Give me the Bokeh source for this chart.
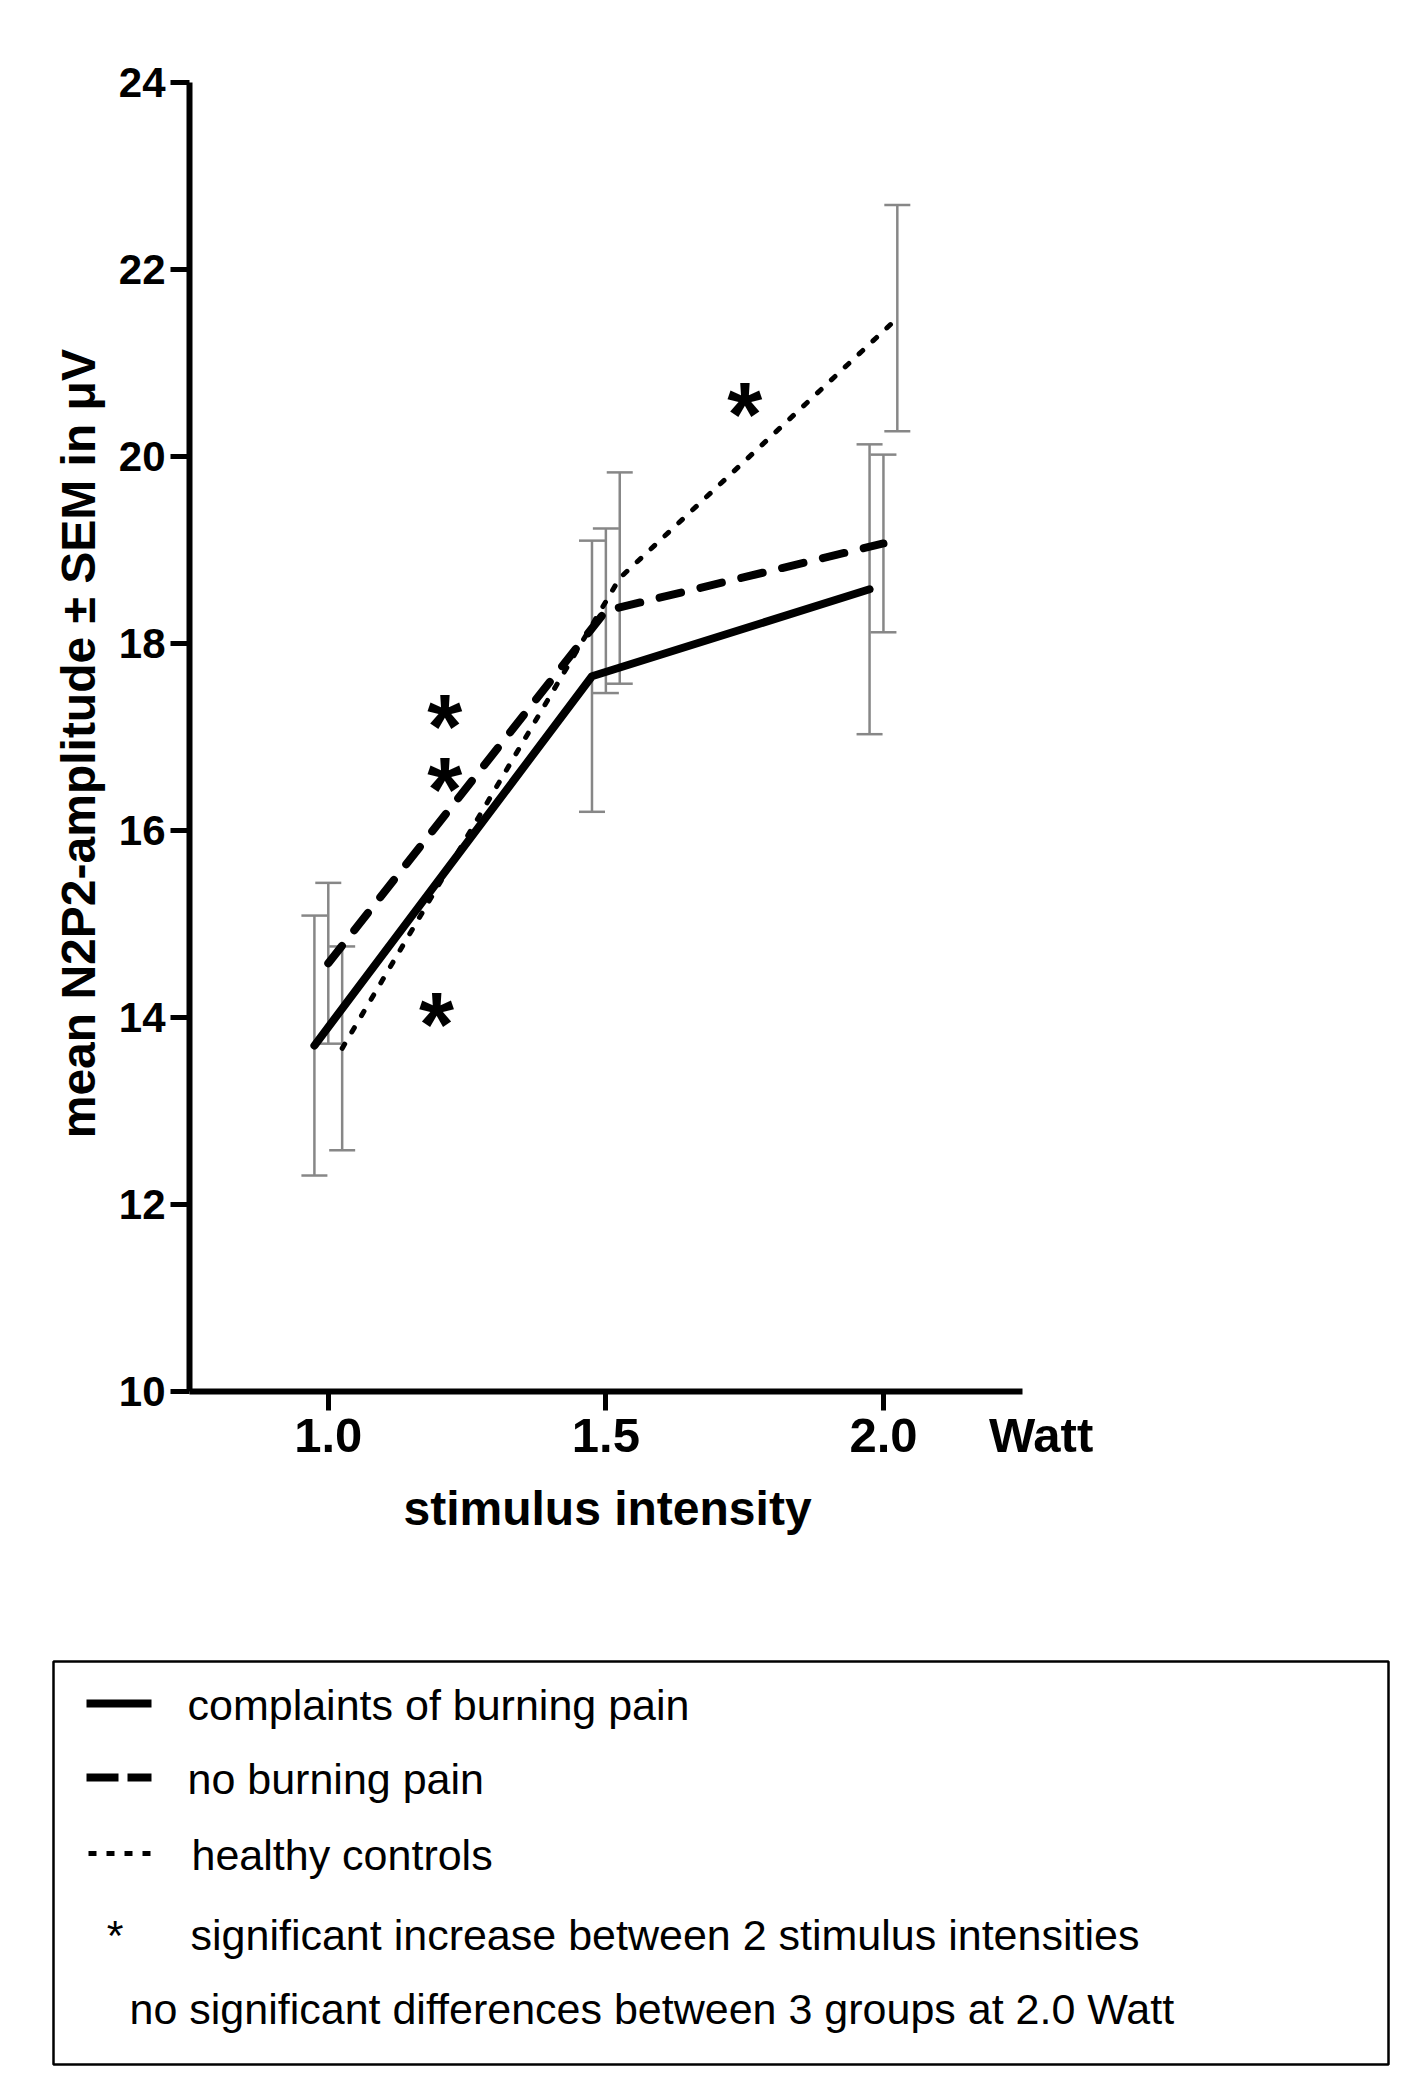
from bokeh.plotting import figure
from bokeh.models import Range1d, FixedTicker, Whisker, TeeHead, ColumnDataSource, LinearAxis, Title
from bokeh.embed import file_html
from bokeh.resources import INLINE
from bokeh.core.properties import value

# ---------------- data ----------------
intensity = [1.0, 1.5, 2.0]
burning_mean = [13.70, 17.65, 18.58]
burning_sem = [1.39, 1.45, 1.55]
noburn_mean = [14.58, 18.35, 19.07]
noburn_sem = [0.86, 0.88, 0.95]
control_mean = [13.67, 18.70, 21.48]
control_sem = [1.09, 1.13, 1.21]

star_x = [1.21, 1.21, 1.195, 1.75]
star_y = [17.25, 16.57, 14.06, 20.58]

y_ticks = [10, 12, 14, 16, 18, 20, 22, 24]
x_ticks = [1.0, 1.5, 2.0]
unit_pos = 2.284
unit_label = "Watt"

legend_labels = ["complaints of burning pain", "no burning pain", "healthy controls",
                 "significant increase between 2 stimulus intensities",
                 "no significant differences between 3 groups at 2.0 Watt"]

FONT = "Liberation Sans"
GRAY = "#878787"

p = figure(frame_width=916, frame_height=1309,
           min_border_left=189, min_border_top=82, min_border_right=304, min_border_bottom=209,
           x_range=Range1d(0.75, 2.4), y_range=Range1d(10, 24),
           x_axis_location=None, y_axis_location=None,
           output_backend="svg", toolbar_location=None)
p.outline_line_color = None
p.grid.visible = False

# y axis
yax = LinearAxis(ticker=FixedTicker(ticks=y_ticks), bounds=(10, 24))
yax.axis_line_width = 6
yax.major_tick_line_width = 5
yax.major_tick_out = 19
yax.major_tick_in = 0
yax.minor_tick_line_color = None
yax.major_label_text_font = FONT
yax.major_label_text_font_style = "bold"
yax.major_label_text_font_size = "42px"
yax.major_label_text_color = "black"
yax.major_label_standoff = 5
yax.axis_label = "mean N2P2-amplitude \u00b1 SEM in  \u03bcV"
yax.axis_label_text_font = FONT
yax.axis_label_text_font_style = "bold"
yax.axis_label_text_font_size = "48px"
yax.axis_label_text_color = "black"
yax.axis_label_standoff = 11
p.add_layout(yax, "left")

# x axis: line + tick marks only
xax = LinearAxis(ticker=FixedTicker(ticks=x_ticks), bounds=(0.75, 2.25))
xax.axis_line_width = 6
xax.major_tick_line_width = 5
xax.major_tick_out = 19
xax.major_tick_in = 0
xax.minor_tick_line_color = None
xax.major_label_text_font_size = "1px"
xax.major_label_text_color = None
xax.major_label_standoff = 0
p.add_layout(xax, "below")

# x axis: tick labels (incl. unit)
xlab = LinearAxis(ticker=FixedTicker(ticks=x_ticks + [unit_pos]))
xlab.major_label_overrides = {1.0: "1.0", 1.5: "1.5", 2.0: "2.0", unit_pos: unit_label}
xlab.axis_line_color = None
xlab.major_tick_line_color = None
xlab.major_tick_out = 0
xlab.major_tick_in = 0
xlab.minor_tick_line_color = None
xlab.major_label_text_font = FONT
xlab.major_label_text_font_style = "bold"
xlab.major_label_text_font_size = "49px"
xlab.major_label_text_color = "black"
xlab.major_label_standoff = -3
p.add_layout(xlab, "below")

# x axis title
xt = Title(text="stimulus intensity", align="left", offset=214, standoff=30,
           text_font=FONT, text_font_style="bold", text_font_size="48px", text_color="black")
p.add_layout(xt, "below")

series = [
    (burning_mean, burning_sem, -0.025, dict(line_width=8)),
    (noburn_mean, noburn_sem, 0.0, dict(line_width=8, line_dash="22 20")),
    (control_mean, control_sem, 0.025, dict(line_width=5, line_dash="5 14")),
]

for mean, sem, dx, style in series:
    xs = [x + dx for x in intensity]
    src = ColumnDataSource(dict(x=xs, y=mean,
                                upper=[m + s for m, s in zip(mean, sem)],
                                lower=[m - s for m, s in zip(mean, sem)]))
    w = Whisker(source=src, base="x", upper="upper", lower="lower", dimension="height",
                line_color=GRAY, line_width=2.5, level="underlay",
                upper_head=TeeHead(size=26, line_color=GRAY, line_width=2.5),
                lower_head=TeeHead(size=26, line_color=GRAY, line_width=2.5))
    p.add_layout(w)

for mean, sem, dx, style in series:
    xs = [x + dx for x in intensity]
    p.line(xs, mean, line_color="black", line_join="round", line_cap="round", **style)

p.text(x=star_x, y=star_y, text=["*"] * len(star_x), text_font=value(FONT),
       text_font_style="bold", text_font_size="90px", text_align="center",
       text_baseline="middle", y_offset=13, text_color="black")

# ---------------- legend box ----------------
W2, H2 = 1409, 480
q = figure(width=W2, height=H2, x_range=Range1d(0, W2), y_range=Range1d(H2, 0),
           x_axis_location=None, y_axis_location=None,
           output_backend="svg", toolbar_location=None,
           min_border=0, min_border_left=0, min_border_right=0, min_border_top=0, min_border_bottom=0)
q.grid.visible = False
q.outline_line_color = None

q.quad(left=[53], right=[1388], top=[61], bottom=[464], fill_color=None,
       line_color="black", line_width=2.5)
q.segment(x0=[86], y0=[103], x1=[151], y1=[103], line_color="black", line_width=8)
q.segment(x0=[86], y0=[177], x1=[151], y1=[177], line_color="black", line_width=8,
          line_dash="32 9")
q.segment(x0=[88], y0=[253], x1=[152], y1=[253], line_color="black", line_width=5,
          line_dash="8 10")
q.text(x=[187, 187, 191, 190, 129], y=[104, 178.6, 254, 334, 408], text=legend_labels,
       text_font=value(FONT), text_font_size="43px", text_baseline="middle",
       text_align="left", text_color="black")
q.text(x=[114.5], y=[334], text=["*"], text_font=value(FONT), text_font_size="43px",
       text_baseline="middle", text_align="center", text_color="black")

open("out.html", "w").write(file_html([p, q], INLINE))
